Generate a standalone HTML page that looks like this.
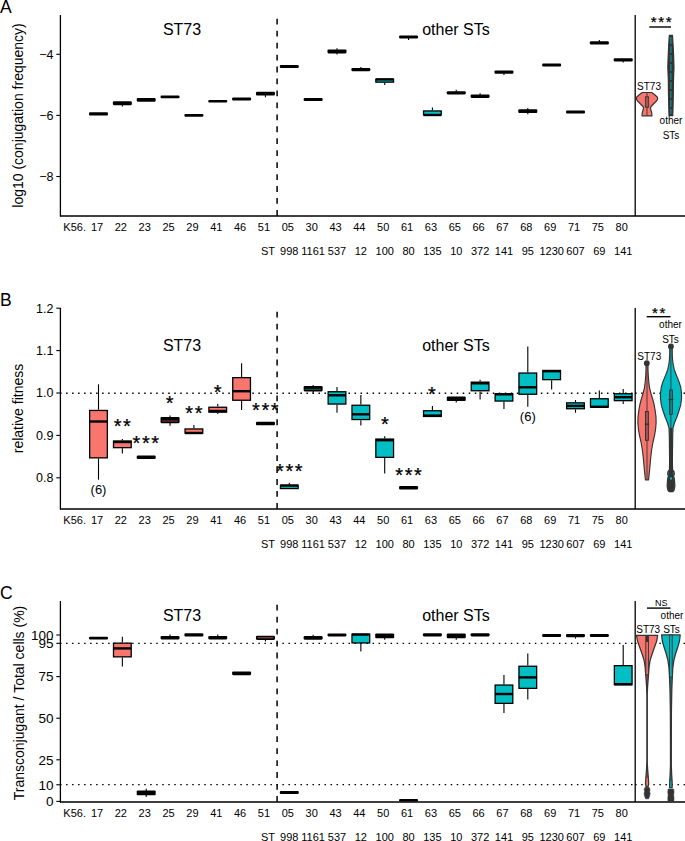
<!DOCTYPE html>
<html><head><meta charset="utf-8"><style>
html,body{margin:0;padding:0;background:#fff;overflow:hidden;}
svg{display:block;}
text{fill:#000;}
</style></head><body>
<svg width="685" height="841" viewBox="0 0 685 841" font-family="'Liberation Sans', sans-serif">
<rect width="685" height="841" fill="#fff"/>
<text x="0.00" y="12.60" font-size="17.5" text-anchor="start" >A</text>
<text transform="translate(23.20,115.50) rotate(-90)" font-size="14" text-anchor="middle">log10 (conjugation frequency)</text>
<line x1="56.30" y1="54.30" x2="60.50" y2="54.30" stroke="#000" stroke-width="1.1" />
<text x="53.50" y="58.74" font-size="12.5" text-anchor="end" >−4</text>
<line x1="56.30" y1="115.40" x2="60.50" y2="115.40" stroke="#000" stroke-width="1.1" />
<text x="53.50" y="119.84" font-size="12.5" text-anchor="end" >−6</text>
<line x1="56.30" y1="176.50" x2="60.50" y2="176.50" stroke="#000" stroke-width="1.1" />
<text x="53.50" y="180.94" font-size="12.5" text-anchor="end" >−8</text>
<line x1="60.40" y1="15.00" x2="60.40" y2="216.60" stroke="#000" stroke-width="1.3" />
<line x1="60.00" y1="216.00" x2="685.00" y2="216.00" stroke="#000" stroke-width="1.3" />
<line x1="635.20" y1="15.00" x2="635.20" y2="216.00" stroke="#000" stroke-width="1.3" />
<line x1="277.10" y1="18.80" x2="277.10" y2="216.00" stroke="#000" stroke-width="1.5" stroke-dasharray="5.8 6.15"/>
<text x="74.65" y="231.00" font-size="11" text-anchor="middle" >K56.</text>
<text x="97.00" y="231.00" font-size="11" text-anchor="middle" >17</text>
<text x="120.85" y="231.00" font-size="11" text-anchor="middle" >22</text>
<text x="144.70" y="231.00" font-size="11" text-anchor="middle" >23</text>
<text x="168.55" y="231.00" font-size="11" text-anchor="middle" >25</text>
<text x="192.40" y="231.00" font-size="11" text-anchor="middle" >29</text>
<text x="216.25" y="231.00" font-size="11" text-anchor="middle" >41</text>
<text x="240.10" y="231.00" font-size="11" text-anchor="middle" >46</text>
<text x="263.95" y="231.00" font-size="11" text-anchor="middle" >51</text>
<text x="287.80" y="231.00" font-size="11" text-anchor="middle" >05</text>
<text x="311.65" y="231.00" font-size="11" text-anchor="middle" >30</text>
<text x="335.50" y="231.00" font-size="11" text-anchor="middle" >43</text>
<text x="359.35" y="231.00" font-size="11" text-anchor="middle" >44</text>
<text x="383.20" y="231.00" font-size="11" text-anchor="middle" >50</text>
<text x="407.05" y="231.00" font-size="11" text-anchor="middle" >61</text>
<text x="430.90" y="231.00" font-size="11" text-anchor="middle" >63</text>
<text x="454.75" y="231.00" font-size="11" text-anchor="middle" >65</text>
<text x="478.60" y="231.00" font-size="11" text-anchor="middle" >66</text>
<text x="502.45" y="231.00" font-size="11" text-anchor="middle" >67</text>
<text x="526.30" y="231.00" font-size="11" text-anchor="middle" >68</text>
<text x="550.15" y="231.00" font-size="11" text-anchor="middle" >69</text>
<text x="574.00" y="231.00" font-size="11" text-anchor="middle" >71</text>
<text x="597.85" y="231.00" font-size="11" text-anchor="middle" >75</text>
<text x="621.70" y="231.00" font-size="11" text-anchor="middle" >80</text>
<text x="267.95" y="254.50" font-size="11" text-anchor="middle" >ST</text>
<text x="289.30" y="254.50" font-size="11" text-anchor="middle" >998</text>
<text x="313.15" y="254.50" font-size="11" text-anchor="middle" >1161</text>
<text x="337.00" y="254.50" font-size="11" text-anchor="middle" >537</text>
<text x="360.85" y="254.50" font-size="11" text-anchor="middle" >12</text>
<text x="384.70" y="254.50" font-size="11" text-anchor="middle" >100</text>
<text x="408.55" y="254.50" font-size="11" text-anchor="middle" >80</text>
<text x="432.40" y="254.50" font-size="11" text-anchor="middle" >135</text>
<text x="456.25" y="254.50" font-size="11" text-anchor="middle" >10</text>
<text x="480.10" y="254.50" font-size="11" text-anchor="middle" >372</text>
<text x="503.95" y="254.50" font-size="11" text-anchor="middle" >141</text>
<text x="527.80" y="254.50" font-size="11" text-anchor="middle" >95</text>
<text x="551.65" y="254.50" font-size="11" text-anchor="middle" >1230</text>
<text x="575.50" y="254.50" font-size="11" text-anchor="middle" >607</text>
<text x="599.35" y="254.50" font-size="11" text-anchor="middle" >69</text>
<text x="623.20" y="254.50" font-size="11" text-anchor="middle" >141</text>
<text x="182.00" y="35.30" font-size="16" text-anchor="middle" >ST73</text>
<text x="456.00" y="35.30" font-size="16" text-anchor="middle" >other STs</text>
<rect x="89.00" y="112.30" width="19.00" height="3.20" rx="1.1" fill="#000"/>
<line x1="122.35" y1="104.20" x2="122.35" y2="106.50" stroke="#000" stroke-width="1.1" />
<rect x="112.85" y="101.30" width="19.00" height="3.90" rx="1.1" fill="#000"/>
<rect x="136.70" y="98.00" width="19.00" height="3.70" rx="1.1" fill="#000"/>
<rect x="160.55" y="95.40" width="19.00" height="2.90" rx="1.1" fill="#000"/>
<rect x="184.40" y="114.00" width="19.00" height="2.80" rx="1.1" fill="#000"/>
<rect x="208.25" y="99.90" width="19.00" height="2.70" rx="1.1" fill="#000"/>
<rect x="232.10" y="97.40" width="19.00" height="3.20" rx="1.1" fill="#000"/>
<line x1="265.45" y1="94.60" x2="265.45" y2="97.30" stroke="#000" stroke-width="1.1" />
<rect x="255.95" y="91.80" width="19.00" height="3.80" rx="1.1" fill="#000"/>
<rect x="279.80" y="65.00" width="19.00" height="3.00" rx="1.1" fill="#000"/>
<rect x="303.65" y="98.00" width="19.00" height="3.00" rx="1.1" fill="#000"/>
<line x1="337.00" y1="48.20" x2="337.00" y2="50.40" stroke="#000" stroke-width="1.1" />
<line x1="337.00" y1="52.40" x2="337.00" y2="54.60" stroke="#000" stroke-width="1.1" />
<rect x="327.50" y="49.40" width="19.00" height="4.00" rx="1.1" fill="#000"/>
<line x1="360.85" y1="67.00" x2="360.85" y2="69.10" stroke="#000" stroke-width="1.1" />
<rect x="351.35" y="68.10" width="19.00" height="3.10" rx="1.1" fill="#000"/>
<line x1="408.55" y1="37.60" x2="408.55" y2="39.90" stroke="#000" stroke-width="1.1" />
<rect x="399.05" y="35.60" width="19.00" height="3.00" rx="1.1" fill="#000"/>
<line x1="456.25" y1="89.80" x2="456.25" y2="92.20" stroke="#000" stroke-width="1.1" />
<rect x="446.75" y="91.20" width="19.00" height="3.20" rx="1.1" fill="#000"/>
<line x1="480.10" y1="93.20" x2="480.10" y2="95.60" stroke="#000" stroke-width="1.1" />
<rect x="470.60" y="94.60" width="19.00" height="3.30" rx="1.1" fill="#000"/>
<line x1="503.95" y1="72.80" x2="503.95" y2="75.00" stroke="#000" stroke-width="1.1" />
<rect x="494.45" y="70.40" width="19.00" height="3.40" rx="1.1" fill="#000"/>
<line x1="527.80" y1="108.00" x2="527.80" y2="110.20" stroke="#000" stroke-width="1.1" />
<line x1="527.80" y1="112.00" x2="527.80" y2="114.20" stroke="#000" stroke-width="1.1" />
<rect x="518.30" y="109.20" width="19.00" height="3.80" rx="1.1" fill="#000"/>
<rect x="542.15" y="63.60" width="19.00" height="3.00" rx="1.1" fill="#000"/>
<rect x="566.00" y="110.60" width="19.00" height="3.00" rx="1.1" fill="#000"/>
<line x1="599.35" y1="40.00" x2="599.35" y2="42.20" stroke="#000" stroke-width="1.1" />
<rect x="589.85" y="41.20" width="19.00" height="3.40" rx="1.1" fill="#000"/>
<line x1="623.20" y1="60.60" x2="623.20" y2="62.60" stroke="#000" stroke-width="1.1" />
<rect x="613.70" y="58.20" width="19.00" height="3.40" rx="1.1" fill="#000"/>
<line x1="384.70" y1="82.80" x2="384.70" y2="85.00" stroke="#000" stroke-width="1.1" />
<rect x="375.85" y="79.25" width="17.70" height="2.90" fill="#00BFC4" stroke="#000" stroke-width="1.3"/>
<line x1="375.80" y1="79.40" x2="393.60" y2="79.40" stroke="#000" stroke-width="2.4" />
<line x1="432.40" y1="107.60" x2="432.40" y2="110.30" stroke="#000" stroke-width="1.1" />
<rect x="423.55" y="110.95" width="17.70" height="3.90" fill="#00BFC4" stroke="#000" stroke-width="1.3"/>
<line x1="423.50" y1="115.00" x2="441.30" y2="115.00" stroke="#000" stroke-width="2.4" />
<text x="650.67" y="27.20" font-size="15" text-anchor="start" stroke="#000" stroke-width="0.25">*</text>
<text x="658.22" y="27.20" font-size="15" text-anchor="start" stroke="#000" stroke-width="0.25">*</text>
<text x="665.77" y="27.20" font-size="15" text-anchor="start" stroke="#000" stroke-width="0.25">*</text>
<line x1="649.30" y1="27.00" x2="671.00" y2="27.00" stroke="#000" stroke-width="1.4" />
<path d="M642.30,92.50 L639.50,94.50 L636.80,97.00 L636.30,99.00 L637.50,101.00 L639.50,103.00 L641.00,104.50 L643.00,106.50 L643.50,108.00 L643.10,110.00 L642.30,112.50 L642.00,115.80 L652.00,115.80 L651.70,112.50 L650.90,110.00 L650.50,108.00 L651.00,106.50 L653.00,104.50 L654.50,103.00 L656.50,101.00 L657.70,99.00 L657.20,97.00 L654.50,94.50 L651.70,92.50 Z" fill="#F8766D" stroke="#333333" stroke-width="1.15" stroke-linejoin="round"/>
<rect x="645.4" y="96.8" width="3.2" height="10.4" fill="none" stroke="#333333" stroke-width="0.9"/>
<line x1="647.00" y1="93.00" x2="647.00" y2="115.60" stroke="#333333" stroke-width="0.9" />
<path d="M669.30,35.40 L668.70,45.00 L668.20,55.00 L667.80,67.00 L668.30,80.00 L668.50,95.00 L668.70,105.00 L669.00,115.60 L672.80,115.60 L673.10,105.00 L673.30,95.00 L673.50,80.00 L674.00,67.00 L673.60,55.00 L673.10,45.00 L672.50,35.40 Z" fill="#333333" stroke="#333333" stroke-width="1.15" stroke-linejoin="round"/>
<line x1="670.90" y1="37.00" x2="670.90" y2="114.00" stroke="#00BFC4" stroke-width="0.8" stroke-dasharray="7 2"/>
<text x="649.00" y="90.40" font-size="10" text-anchor="middle" >ST73</text>
<text x="671.00" y="124.20" font-size="10" text-anchor="middle" >other</text>
<text x="671.00" y="139.00" font-size="10" text-anchor="middle" >STs</text>
<text x="0.00" y="305.60" font-size="17.5" text-anchor="start" >B</text>
<text transform="translate(23.20,408.50) rotate(-90)" font-size="14" text-anchor="middle">relative fitness</text>
<line x1="56.30" y1="308.20" x2="60.50" y2="308.20" stroke="#000" stroke-width="1.1" />
<text x="53.50" y="312.64" font-size="12.5" text-anchor="end" >1.2</text>
<line x1="56.30" y1="350.60" x2="60.50" y2="350.60" stroke="#000" stroke-width="1.1" />
<text x="53.50" y="355.04" font-size="12.5" text-anchor="end" >1.1</text>
<line x1="56.30" y1="393.00" x2="60.50" y2="393.00" stroke="#000" stroke-width="1.1" />
<text x="53.50" y="397.44" font-size="12.5" text-anchor="end" >1.0</text>
<line x1="56.30" y1="435.40" x2="60.50" y2="435.40" stroke="#000" stroke-width="1.1" />
<text x="53.50" y="439.84" font-size="12.5" text-anchor="end" >0.9</text>
<line x1="56.30" y1="477.80" x2="60.50" y2="477.80" stroke="#000" stroke-width="1.1" />
<text x="53.50" y="482.24" font-size="12.5" text-anchor="end" >0.8</text>
<line x1="60.05" y1="393.20" x2="634.50" y2="393.20" stroke="#000" stroke-width="1.35" stroke-dasharray="1.5 4.51"/>
<line x1="635.15" y1="393.20" x2="685.00" y2="393.20" stroke="#000" stroke-width="1.35" stroke-dasharray="1.5 4.55"/>
<line x1="60.40" y1="308.00" x2="60.40" y2="509.60" stroke="#000" stroke-width="1.3" />
<line x1="60.00" y1="509.00" x2="685.00" y2="509.00" stroke="#000" stroke-width="1.3" />
<line x1="635.20" y1="308.00" x2="635.20" y2="509.00" stroke="#000" stroke-width="1.3" />
<line x1="277.10" y1="311.80" x2="277.10" y2="509.00" stroke="#000" stroke-width="1.5" stroke-dasharray="5.8 6.15"/>
<text x="74.65" y="524.00" font-size="11" text-anchor="middle" >K56.</text>
<text x="97.00" y="524.00" font-size="11" text-anchor="middle" >17</text>
<text x="120.85" y="524.00" font-size="11" text-anchor="middle" >22</text>
<text x="144.70" y="524.00" font-size="11" text-anchor="middle" >23</text>
<text x="168.55" y="524.00" font-size="11" text-anchor="middle" >25</text>
<text x="192.40" y="524.00" font-size="11" text-anchor="middle" >29</text>
<text x="216.25" y="524.00" font-size="11" text-anchor="middle" >41</text>
<text x="240.10" y="524.00" font-size="11" text-anchor="middle" >46</text>
<text x="263.95" y="524.00" font-size="11" text-anchor="middle" >51</text>
<text x="287.80" y="524.00" font-size="11" text-anchor="middle" >05</text>
<text x="311.65" y="524.00" font-size="11" text-anchor="middle" >30</text>
<text x="335.50" y="524.00" font-size="11" text-anchor="middle" >43</text>
<text x="359.35" y="524.00" font-size="11" text-anchor="middle" >44</text>
<text x="383.20" y="524.00" font-size="11" text-anchor="middle" >50</text>
<text x="407.05" y="524.00" font-size="11" text-anchor="middle" >61</text>
<text x="430.90" y="524.00" font-size="11" text-anchor="middle" >63</text>
<text x="454.75" y="524.00" font-size="11" text-anchor="middle" >65</text>
<text x="478.60" y="524.00" font-size="11" text-anchor="middle" >66</text>
<text x="502.45" y="524.00" font-size="11" text-anchor="middle" >67</text>
<text x="526.30" y="524.00" font-size="11" text-anchor="middle" >68</text>
<text x="550.15" y="524.00" font-size="11" text-anchor="middle" >69</text>
<text x="574.00" y="524.00" font-size="11" text-anchor="middle" >71</text>
<text x="597.85" y="524.00" font-size="11" text-anchor="middle" >75</text>
<text x="621.70" y="524.00" font-size="11" text-anchor="middle" >80</text>
<text x="267.95" y="547.50" font-size="11" text-anchor="middle" >ST</text>
<text x="289.30" y="547.50" font-size="11" text-anchor="middle" >998</text>
<text x="313.15" y="547.50" font-size="11" text-anchor="middle" >1161</text>
<text x="337.00" y="547.50" font-size="11" text-anchor="middle" >537</text>
<text x="360.85" y="547.50" font-size="11" text-anchor="middle" >12</text>
<text x="384.70" y="547.50" font-size="11" text-anchor="middle" >100</text>
<text x="408.55" y="547.50" font-size="11" text-anchor="middle" >80</text>
<text x="432.40" y="547.50" font-size="11" text-anchor="middle" >135</text>
<text x="456.25" y="547.50" font-size="11" text-anchor="middle" >10</text>
<text x="480.10" y="547.50" font-size="11" text-anchor="middle" >372</text>
<text x="503.95" y="547.50" font-size="11" text-anchor="middle" >141</text>
<text x="527.80" y="547.50" font-size="11" text-anchor="middle" >95</text>
<text x="551.65" y="547.50" font-size="11" text-anchor="middle" >1230</text>
<text x="575.50" y="547.50" font-size="11" text-anchor="middle" >607</text>
<text x="599.35" y="547.50" font-size="11" text-anchor="middle" >69</text>
<text x="623.20" y="547.50" font-size="11" text-anchor="middle" >141</text>
<text x="182.00" y="350.90" font-size="16" text-anchor="middle" >ST73</text>
<text x="456.00" y="350.90" font-size="16" text-anchor="middle" >other STs</text>
<line x1="98.50" y1="384.30" x2="98.50" y2="409.80" stroke="#000" stroke-width="1.1" />
<line x1="98.50" y1="458.50" x2="98.50" y2="479.70" stroke="#000" stroke-width="1.1" />
<rect x="89.65" y="410.45" width="17.70" height="47.40" fill="#F8766D" stroke="#000" stroke-width="1.3"/>
<line x1="89.60" y1="421.50" x2="107.40" y2="421.50" stroke="#000" stroke-width="2.4" />
<text x="98.50" y="494.40" font-size="13" text-anchor="middle" >(6)</text>
<line x1="122.35" y1="439.00" x2="122.35" y2="440.40" stroke="#000" stroke-width="1.1" />
<line x1="122.35" y1="448.30" x2="122.35" y2="453.50" stroke="#000" stroke-width="1.1" />
<rect x="113.50" y="441.05" width="17.70" height="6.60" fill="#F8766D" stroke="#000" stroke-width="1.3"/>
<line x1="113.45" y1="442.00" x2="131.25" y2="442.00" stroke="#000" stroke-width="2.4" />
<rect x="136.70" y="455.60" width="19.00" height="3.50" rx="1.1" fill="#000"/>
<line x1="170.05" y1="415.50" x2="170.05" y2="418.10" stroke="#000" stroke-width="1.1" />
<line x1="170.05" y1="422.30" x2="170.05" y2="425.70" stroke="#000" stroke-width="1.1" />
<rect x="160.55" y="417.10" width="19.00" height="6.20" rx="1.1" fill="#000"/>
<line x1="162.15" y1="421.00" x2="177.95" y2="421.00" stroke="#a04a44" stroke-width="0.9" />
<line x1="193.90" y1="425.00" x2="193.90" y2="428.30" stroke="#000" stroke-width="1.1" />
<rect x="185.05" y="428.95" width="17.70" height="4.20" fill="#F8766D" stroke="#000" stroke-width="1.3"/>
<line x1="185.00" y1="433.00" x2="202.80" y2="433.00" stroke="#000" stroke-width="2.4" />
<line x1="217.75" y1="404.00" x2="217.75" y2="406.60" stroke="#000" stroke-width="1.1" />
<line x1="217.75" y1="412.80" x2="217.75" y2="414.00" stroke="#000" stroke-width="1.1" />
<rect x="208.90" y="407.25" width="17.70" height="4.90" fill="#F8766D" stroke="#000" stroke-width="1.3"/>
<line x1="208.85" y1="411.00" x2="226.65" y2="411.00" stroke="#000" stroke-width="2.4" />
<line x1="241.60" y1="363.20" x2="241.60" y2="377.00" stroke="#000" stroke-width="1.1" />
<line x1="241.60" y1="400.90" x2="241.60" y2="409.90" stroke="#000" stroke-width="1.1" />
<rect x="232.75" y="377.65" width="17.70" height="22.60" fill="#F8766D" stroke="#000" stroke-width="1.3"/>
<line x1="232.70" y1="391.20" x2="250.50" y2="391.20" stroke="#000" stroke-width="2.4" />
<rect x="255.95" y="421.80" width="19.00" height="3.50" rx="1.1" fill="#000"/>
<line x1="289.30" y1="482.70" x2="289.30" y2="484.60" stroke="#000" stroke-width="1.1" />
<rect x="280.45" y="485.25" width="17.70" height="3.30" fill="#00BFC4" stroke="#000" stroke-width="1.3"/>
<line x1="280.40" y1="485.60" x2="298.20" y2="485.60" stroke="#000" stroke-width="2.4" />
<line x1="313.15" y1="385.00" x2="313.15" y2="387.10" stroke="#000" stroke-width="1.1" />
<line x1="313.15" y1="390.40" x2="313.15" y2="393.50" stroke="#000" stroke-width="1.1" />
<rect x="303.65" y="386.10" width="19.00" height="5.30" rx="1.1" fill="#000"/>
<line x1="305.25" y1="389.30" x2="321.05" y2="389.30" stroke="#0a6e70" stroke-width="0.9" />
<line x1="337.00" y1="387.10" x2="337.00" y2="391.10" stroke="#000" stroke-width="1.1" />
<line x1="337.00" y1="404.70" x2="337.00" y2="412.80" stroke="#000" stroke-width="1.1" />
<rect x="328.15" y="391.75" width="17.70" height="12.30" fill="#00BFC4" stroke="#000" stroke-width="1.3"/>
<line x1="328.10" y1="395.30" x2="345.90" y2="395.30" stroke="#000" stroke-width="2.4" />
<line x1="360.85" y1="395.00" x2="360.85" y2="404.60" stroke="#000" stroke-width="1.1" />
<line x1="360.85" y1="420.20" x2="360.85" y2="425.60" stroke="#000" stroke-width="1.1" />
<rect x="352.00" y="405.25" width="17.70" height="14.30" fill="#00BFC4" stroke="#000" stroke-width="1.3"/>
<line x1="351.95" y1="414.30" x2="369.75" y2="414.30" stroke="#000" stroke-width="2.4" />
<line x1="384.70" y1="436.20" x2="384.70" y2="438.40" stroke="#000" stroke-width="1.1" />
<line x1="384.70" y1="458.00" x2="384.70" y2="473.60" stroke="#000" stroke-width="1.1" />
<rect x="375.85" y="439.05" width="17.70" height="18.30" fill="#00BFC4" stroke="#000" stroke-width="1.3"/>
<line x1="375.80" y1="440.20" x2="393.60" y2="440.20" stroke="#000" stroke-width="2.4" />
<rect x="399.05" y="486.10" width="19.00" height="3.40" rx="1.1" fill="#000"/>
<line x1="432.40" y1="406.00" x2="432.40" y2="410.10" stroke="#000" stroke-width="1.1" />
<rect x="423.55" y="410.75" width="17.70" height="5.70" fill="#00BFC4" stroke="#000" stroke-width="1.3"/>
<line x1="423.50" y1="415.60" x2="441.30" y2="415.60" stroke="#000" stroke-width="2.4" />
<line x1="456.25" y1="400.00" x2="456.25" y2="402.50" stroke="#000" stroke-width="1.1" />
<rect x="446.75" y="396.60" width="19.00" height="4.40" rx="1.1" fill="#000"/>
<line x1="480.10" y1="379.70" x2="480.10" y2="381.50" stroke="#000" stroke-width="1.1" />
<line x1="480.10" y1="391.40" x2="480.10" y2="399.60" stroke="#000" stroke-width="1.1" />
<rect x="471.25" y="382.15" width="17.70" height="8.60" fill="#00BFC4" stroke="#000" stroke-width="1.3"/>
<line x1="471.20" y1="383.30" x2="489.00" y2="383.30" stroke="#000" stroke-width="2.4" />
<line x1="503.95" y1="401.70" x2="503.95" y2="408.90" stroke="#000" stroke-width="1.1" />
<rect x="495.10" y="393.75" width="17.70" height="7.30" fill="#00BFC4" stroke="#000" stroke-width="1.3"/>
<line x1="495.05" y1="394.30" x2="512.85" y2="394.30" stroke="#000" stroke-width="2.4" />
<line x1="527.80" y1="346.40" x2="527.80" y2="372.40" stroke="#000" stroke-width="1.1" />
<line x1="527.80" y1="394.90" x2="527.80" y2="406.80" stroke="#000" stroke-width="1.1" />
<rect x="518.95" y="373.05" width="17.70" height="21.20" fill="#00BFC4" stroke="#000" stroke-width="1.3"/>
<line x1="518.90" y1="387.30" x2="536.70" y2="387.30" stroke="#000" stroke-width="2.4" />
<text x="527.80" y="421.30" font-size="13" text-anchor="middle" >(6)</text>
<line x1="551.65" y1="380.30" x2="551.65" y2="389.60" stroke="#000" stroke-width="1.1" />
<rect x="542.80" y="370.45" width="17.70" height="9.20" fill="#00BFC4" stroke="#000" stroke-width="1.3"/>
<line x1="542.75" y1="371.20" x2="560.55" y2="371.20" stroke="#000" stroke-width="2.4" />
<line x1="575.50" y1="400.10" x2="575.50" y2="402.20" stroke="#000" stroke-width="1.1" />
<line x1="575.50" y1="409.40" x2="575.50" y2="412.70" stroke="#000" stroke-width="1.1" />
<rect x="566.65" y="402.85" width="17.70" height="5.90" fill="#00BFC4" stroke="#000" stroke-width="1.3"/>
<line x1="566.60" y1="405.90" x2="584.40" y2="405.90" stroke="#000" stroke-width="2.4" />
<line x1="599.35" y1="390.50" x2="599.35" y2="398.10" stroke="#000" stroke-width="1.1" />
<rect x="590.50" y="398.75" width="17.70" height="8.40" fill="#00BFC4" stroke="#000" stroke-width="1.3"/>
<line x1="590.45" y1="406.80" x2="608.25" y2="406.80" stroke="#000" stroke-width="2.4" />
<line x1="623.20" y1="389.10" x2="623.20" y2="393.10" stroke="#000" stroke-width="1.1" />
<line x1="623.20" y1="401.30" x2="623.20" y2="404.00" stroke="#000" stroke-width="1.1" />
<rect x="614.35" y="393.75" width="17.70" height="6.90" fill="#00BFC4" stroke="#000" stroke-width="1.3"/>
<line x1="614.30" y1="397.20" x2="632.10" y2="397.20" stroke="#000" stroke-width="2.4" />
<text x="113.70" y="433.33" font-size="20" text-anchor="start" stroke="#000" stroke-width="0.25">*</text>
<text x="123.05" y="433.33" font-size="20" text-anchor="start" stroke="#000" stroke-width="0.25">*</text>
<text x="132.60" y="450.23" font-size="20" text-anchor="start" stroke="#000" stroke-width="0.25">*</text>
<text x="141.95" y="450.23" font-size="20" text-anchor="start" stroke="#000" stroke-width="0.25">*</text>
<text x="151.30" y="450.23" font-size="20" text-anchor="start" stroke="#000" stroke-width="0.25">*</text>
<text x="165.80" y="410.43" font-size="20" text-anchor="start" stroke="#000" stroke-width="0.25">*</text>
<text x="185.30" y="419.73" font-size="20" text-anchor="start" stroke="#000" stroke-width="0.25">*</text>
<text x="194.65" y="419.73" font-size="20" text-anchor="start" stroke="#000" stroke-width="0.25">*</text>
<text x="213.70" y="399.03" font-size="20" text-anchor="start" stroke="#000" stroke-width="0.25">*</text>
<text x="252.10" y="417.43" font-size="20" text-anchor="start" stroke="#000" stroke-width="0.25">*</text>
<text x="261.45" y="417.43" font-size="20" text-anchor="start" stroke="#000" stroke-width="0.25">*</text>
<text x="270.80" y="417.43" font-size="20" text-anchor="start" stroke="#000" stroke-width="0.25">*</text>
<text x="276.10" y="477.53" font-size="20" text-anchor="start" stroke="#000" stroke-width="0.25">*</text>
<text x="285.45" y="477.53" font-size="20" text-anchor="start" stroke="#000" stroke-width="0.25">*</text>
<text x="294.80" y="477.53" font-size="20" text-anchor="start" stroke="#000" stroke-width="0.25">*</text>
<text x="380.90" y="431.23" font-size="20" text-anchor="start" stroke="#000" stroke-width="0.25">*</text>
<text x="395.30" y="482.43" font-size="20" text-anchor="start" stroke="#000" stroke-width="0.25">*</text>
<text x="404.65" y="482.43" font-size="20" text-anchor="start" stroke="#000" stroke-width="0.25">*</text>
<text x="414.00" y="482.43" font-size="20" text-anchor="start" stroke="#000" stroke-width="0.25">*</text>
<text x="428.10" y="400.63" font-size="20" text-anchor="start" stroke="#000" stroke-width="0.25">*</text>
<text x="651.98" y="318.10" font-size="15" text-anchor="start" stroke="#000" stroke-width="0.25">*</text>
<text x="659.48" y="318.10" font-size="15" text-anchor="start" stroke="#000" stroke-width="0.25">*</text>
<line x1="646.70" y1="316.70" x2="670.50" y2="316.70" stroke="#000" stroke-width="1.4" />
<text x="670.50" y="327.60" font-size="10" text-anchor="middle" >other</text>
<text x="670.50" y="343.00" font-size="10" text-anchor="middle" >STs</text>
<text x="649.30" y="360.00" font-size="10" text-anchor="middle" >ST73</text>
<path d="M646.00,363.20 L646.00,370.00 L645.70,376.00 L645.20,382.00 L644.50,387.60 L643.00,393.50 L641.20,399.50 L639.80,405.00 L638.70,411.30 L638.00,417.00 L637.90,423.20 L638.40,429.00 L639.40,435.10 L641.00,442.00 L642.40,450.00 L643.50,460.00 L644.40,470.00 L645.40,479.80 L648.60,479.80 L649.60,470.00 L650.50,460.00 L651.60,450.00 L653.00,442.00 L654.60,435.10 L655.60,429.00 L656.10,423.20 L656.00,417.00 L655.30,411.30 L654.20,405.00 L652.80,399.50 L651.00,393.50 L649.50,387.60 L648.80,382.00 L648.30,376.00 L648.00,370.00 L648.00,363.20 Z" fill="#F8766D" stroke="#333333" stroke-width="1.15" stroke-linejoin="round"/>
<rect x="645.5" y="411.5" width="2.9" height="28.8" fill="none" stroke="#333333" stroke-width="1"/>
<line x1="644.80" y1="424.20" x2="649.20" y2="424.20" stroke="#333333" stroke-width="1.4" />
<line x1="647.00" y1="363.00" x2="647.00" y2="479.60" stroke="#333333" stroke-width="0.9" />
<circle cx="646.8" cy="363.2" r="2.9" fill="#333333"/>
<path d="M669.80,346.40 L669.70,355.00 L669.40,360.00 L668.70,365.00 L667.70,369.70 L665.70,375.00 L663.00,381.60 L661.30,387.00 L660.50,393.50 L660.50,399.00 L661.40,405.40 L663.10,411.00 L665.20,417.30 L667.60,423.00 L669.00,428.00 L669.30,435.00 L669.50,450.00 L669.60,462.00 L669.40,470.00 L668.00,471.50 L667.60,474.00 L668.40,476.00 L667.60,479.00 L667.10,486.00 L667.80,490.00 L669.20,491.60 L672.80,491.60 L674.20,490.00 L674.90,486.00 L674.40,479.00 L673.60,476.00 L674.40,474.00 L674.00,471.50 L672.60,470.00 L672.40,462.00 L672.50,450.00 L672.70,435.00 L673.00,428.00 L674.40,423.00 L676.80,417.30 L678.90,411.00 L680.60,405.40 L681.50,399.00 L681.50,393.50 L680.70,387.00 L679.00,381.60 L676.30,375.00 L674.30,369.70 L673.30,365.00 L672.60,360.00 L672.30,355.00 L672.20,346.40 Z" fill="#00BFC4" stroke="#333333" stroke-width="1.15" stroke-linejoin="round"/>
<rect x="669.6" y="390" width="2.8" height="24.3" fill="none" stroke="#333333" stroke-width="1"/>
<line x1="671.00" y1="428.00" x2="671.00" y2="471.00" stroke="#333333" stroke-width="2.6" />
<line x1="668.50" y1="399.50" x2="673.50" y2="399.50" stroke="#333333" stroke-width="1.2" />
<line x1="670.90" y1="346.00" x2="670.90" y2="470.00" stroke="#333333" stroke-width="0.9" />
<path d="M668.6,470 L673.2,470 L673.6,478 L674.5,486 L673.2,491.6 L668.6,491.6 L667.3,486 L668.2,478 Z" fill="#333333"/>
<rect x="670" y="477.5" width="2" height="2" fill="#00BFC4"/>
<circle cx="670.9" cy="346.4" r="2.9" fill="#333333"/>
<text x="0.00" y="598.60" font-size="17.5" text-anchor="start" >C</text>
<text transform="translate(23.70,703.00) rotate(-90)" font-size="14" text-anchor="middle">Transconjugant / Total cells (%)</text>
<line x1="56.30" y1="635.00" x2="60.50" y2="635.00" stroke="#000" stroke-width="1.1" />
<text x="53.50" y="639.79" font-size="13.5" text-anchor="end" >100</text>
<line x1="56.30" y1="643.32" x2="60.50" y2="643.32" stroke="#000" stroke-width="1.1" />
<text x="53.50" y="648.11" font-size="13.5" text-anchor="end" >95</text>
<line x1="56.30" y1="676.60" x2="60.50" y2="676.60" stroke="#000" stroke-width="1.1" />
<text x="53.50" y="681.39" font-size="13.5" text-anchor="end" >75</text>
<line x1="56.30" y1="718.20" x2="60.50" y2="718.20" stroke="#000" stroke-width="1.1" />
<text x="53.50" y="722.99" font-size="13.5" text-anchor="end" >50</text>
<line x1="56.30" y1="759.80" x2="60.50" y2="759.80" stroke="#000" stroke-width="1.1" />
<text x="53.50" y="764.59" font-size="13.5" text-anchor="end" >25</text>
<line x1="56.30" y1="784.76" x2="60.50" y2="784.76" stroke="#000" stroke-width="1.1" />
<text x="53.50" y="789.55" font-size="13.5" text-anchor="end" >10</text>
<line x1="56.30" y1="801.40" x2="60.50" y2="801.40" stroke="#000" stroke-width="1.1" />
<text x="53.50" y="806.19" font-size="13.5" text-anchor="end" >0</text>
<line x1="60.05" y1="643.40" x2="634.50" y2="643.40" stroke="#000" stroke-width="1.35" stroke-dasharray="1.5 4.51"/>
<line x1="635.15" y1="643.40" x2="685.00" y2="643.40" stroke="#000" stroke-width="1.35" stroke-dasharray="1.5 4.55"/>
<line x1="60.05" y1="784.60" x2="634.50" y2="784.60" stroke="#000" stroke-width="1.35" stroke-dasharray="1.5 4.51"/>
<line x1="635.15" y1="784.60" x2="685.00" y2="784.60" stroke="#000" stroke-width="1.35" stroke-dasharray="1.5 4.55"/>
<line x1="60.40" y1="601.00" x2="60.40" y2="802.60" stroke="#000" stroke-width="1.3" />
<line x1="60.00" y1="802.00" x2="685.00" y2="802.00" stroke="#000" stroke-width="1.3" />
<line x1="635.20" y1="601.00" x2="635.20" y2="802.00" stroke="#000" stroke-width="1.3" />
<line x1="277.10" y1="604.80" x2="277.10" y2="802.00" stroke="#000" stroke-width="1.5" stroke-dasharray="5.8 6.15"/>
<text x="74.65" y="817.00" font-size="11" text-anchor="middle" >K56.</text>
<text x="97.00" y="817.00" font-size="11" text-anchor="middle" >17</text>
<text x="120.85" y="817.00" font-size="11" text-anchor="middle" >22</text>
<text x="144.70" y="817.00" font-size="11" text-anchor="middle" >23</text>
<text x="168.55" y="817.00" font-size="11" text-anchor="middle" >25</text>
<text x="192.40" y="817.00" font-size="11" text-anchor="middle" >29</text>
<text x="216.25" y="817.00" font-size="11" text-anchor="middle" >41</text>
<text x="240.10" y="817.00" font-size="11" text-anchor="middle" >46</text>
<text x="263.95" y="817.00" font-size="11" text-anchor="middle" >51</text>
<text x="287.80" y="817.00" font-size="11" text-anchor="middle" >05</text>
<text x="311.65" y="817.00" font-size="11" text-anchor="middle" >30</text>
<text x="335.50" y="817.00" font-size="11" text-anchor="middle" >43</text>
<text x="359.35" y="817.00" font-size="11" text-anchor="middle" >44</text>
<text x="383.20" y="817.00" font-size="11" text-anchor="middle" >50</text>
<text x="407.05" y="817.00" font-size="11" text-anchor="middle" >61</text>
<text x="430.90" y="817.00" font-size="11" text-anchor="middle" >63</text>
<text x="454.75" y="817.00" font-size="11" text-anchor="middle" >65</text>
<text x="478.60" y="817.00" font-size="11" text-anchor="middle" >66</text>
<text x="502.45" y="817.00" font-size="11" text-anchor="middle" >67</text>
<text x="526.30" y="817.00" font-size="11" text-anchor="middle" >68</text>
<text x="550.15" y="817.00" font-size="11" text-anchor="middle" >69</text>
<text x="574.00" y="817.00" font-size="11" text-anchor="middle" >71</text>
<text x="597.85" y="817.00" font-size="11" text-anchor="middle" >75</text>
<text x="621.70" y="817.00" font-size="11" text-anchor="middle" >80</text>
<text x="267.95" y="840.50" font-size="11" text-anchor="middle" >ST</text>
<text x="289.30" y="840.50" font-size="11" text-anchor="middle" >998</text>
<text x="313.15" y="840.50" font-size="11" text-anchor="middle" >1161</text>
<text x="337.00" y="840.50" font-size="11" text-anchor="middle" >537</text>
<text x="360.85" y="840.50" font-size="11" text-anchor="middle" >12</text>
<text x="384.70" y="840.50" font-size="11" text-anchor="middle" >100</text>
<text x="408.55" y="840.50" font-size="11" text-anchor="middle" >80</text>
<text x="432.40" y="840.50" font-size="11" text-anchor="middle" >135</text>
<text x="456.25" y="840.50" font-size="11" text-anchor="middle" >10</text>
<text x="480.10" y="840.50" font-size="11" text-anchor="middle" >372</text>
<text x="503.95" y="840.50" font-size="11" text-anchor="middle" >141</text>
<text x="527.80" y="840.50" font-size="11" text-anchor="middle" >95</text>
<text x="551.65" y="840.50" font-size="11" text-anchor="middle" >1230</text>
<text x="575.50" y="840.50" font-size="11" text-anchor="middle" >607</text>
<text x="599.35" y="840.50" font-size="11" text-anchor="middle" >69</text>
<text x="623.20" y="840.50" font-size="11" text-anchor="middle" >141</text>
<text x="182.00" y="621.00" font-size="16" text-anchor="middle" >ST73</text>
<text x="456.00" y="621.00" font-size="16" text-anchor="middle" >other STs</text>
<rect x="89.00" y="636.70" width="19.00" height="2.90" rx="1.1" fill="#000"/>
<line x1="122.35" y1="636.70" x2="122.35" y2="642.50" stroke="#000" stroke-width="1.1" />
<line x1="122.35" y1="657.50" x2="122.35" y2="666.50" stroke="#000" stroke-width="1.1" />
<rect x="113.50" y="643.15" width="17.70" height="13.70" fill="#F8766D" stroke="#000" stroke-width="1.3"/>
<line x1="113.45" y1="648.40" x2="131.25" y2="648.40" stroke="#000" stroke-width="2.4" />
<line x1="146.20" y1="788.80" x2="146.20" y2="791.40" stroke="#000" stroke-width="1.1" />
<line x1="146.20" y1="794.30" x2="146.20" y2="797.00" stroke="#000" stroke-width="1.1" />
<rect x="136.70" y="790.40" width="19.00" height="4.90" rx="1.1" fill="#000"/>
<line x1="170.05" y1="634.60" x2="170.05" y2="636.90" stroke="#000" stroke-width="1.1" />
<rect x="160.55" y="635.90" width="19.00" height="3.50" rx="1.1" fill="#000"/>
<rect x="184.40" y="633.30" width="19.00" height="3.20" rx="1.1" fill="#000"/>
<line x1="217.75" y1="634.60" x2="217.75" y2="636.90" stroke="#000" stroke-width="1.1" />
<rect x="208.25" y="635.90" width="19.00" height="3.50" rx="1.1" fill="#000"/>
<rect x="232.10" y="671.40" width="19.00" height="3.80" rx="1.1" fill="#000"/>
<line x1="265.45" y1="638.90" x2="265.45" y2="641.40" stroke="#000" stroke-width="1.1" />
<rect x="255.95" y="635.70" width="19.00" height="4.20" rx="1.1" fill="#000"/>
<line x1="257.55" y1="637.80" x2="273.35" y2="637.80" stroke="#b65a52" stroke-width="0.9" />
<rect x="279.80" y="791.00" width="19.00" height="3.00" rx="1.1" fill="#000"/>
<line x1="313.15" y1="634.80" x2="313.15" y2="637.10" stroke="#000" stroke-width="1.1" />
<rect x="303.65" y="636.10" width="19.00" height="3.60" rx="1.1" fill="#000"/>
<rect x="327.50" y="633.50" width="19.00" height="2.90" rx="1.1" fill="#000"/>
<line x1="360.85" y1="643.60" x2="360.85" y2="651.60" stroke="#000" stroke-width="1.1" />
<rect x="352.00" y="634.15" width="17.70" height="8.80" fill="#00BFC4" stroke="#000" stroke-width="1.3"/>
<line x1="351.95" y1="634.60" x2="369.75" y2="634.60" stroke="#000" stroke-width="2.4" />
<line x1="384.70" y1="637.30" x2="384.70" y2="639.80" stroke="#000" stroke-width="1.1" />
<rect x="375.20" y="633.50" width="19.00" height="4.80" rx="1.1" fill="#000"/>
<rect x="399.05" y="799.00" width="19.00" height="2.60" rx="1.1" fill="#000"/>
<rect x="422.90" y="633.20" width="19.00" height="3.20" rx="1.1" fill="#000"/>
<line x1="456.25" y1="637.30" x2="456.25" y2="639.80" stroke="#000" stroke-width="1.1" />
<rect x="446.75" y="633.50" width="19.00" height="4.80" rx="1.1" fill="#000"/>
<rect x="470.60" y="633.20" width="19.00" height="3.20" rx="1.1" fill="#000"/>
<line x1="503.95" y1="675.00" x2="503.95" y2="684.40" stroke="#000" stroke-width="1.1" />
<line x1="503.95" y1="704.00" x2="503.95" y2="713.00" stroke="#000" stroke-width="1.1" />
<rect x="495.10" y="685.05" width="17.70" height="18.30" fill="#00BFC4" stroke="#000" stroke-width="1.3"/>
<line x1="495.05" y1="694.00" x2="512.85" y2="694.00" stroke="#000" stroke-width="2.4" />
<line x1="527.80" y1="653.40" x2="527.80" y2="665.60" stroke="#000" stroke-width="1.1" />
<line x1="527.80" y1="689.00" x2="527.80" y2="699.40" stroke="#000" stroke-width="1.1" />
<rect x="518.95" y="666.25" width="17.70" height="22.10" fill="#00BFC4" stroke="#000" stroke-width="1.3"/>
<line x1="518.90" y1="677.40" x2="536.70" y2="677.40" stroke="#000" stroke-width="2.4" />
<rect x="542.15" y="633.90" width="19.00" height="3.10" rx="1.1" fill="#000"/>
<line x1="575.50" y1="636.20" x2="575.50" y2="638.60" stroke="#000" stroke-width="1.1" />
<rect x="566.00" y="633.90" width="19.00" height="3.30" rx="1.1" fill="#000"/>
<rect x="589.85" y="633.90" width="19.00" height="3.10" rx="1.1" fill="#000"/>
<line x1="623.20" y1="644.90" x2="623.20" y2="665.00" stroke="#000" stroke-width="1.1" />
<rect x="614.35" y="665.65" width="17.70" height="19.10" fill="#00BFC4" stroke="#000" stroke-width="1.3"/>
<line x1="614.30" y1="684.20" x2="632.10" y2="684.20" stroke="#000" stroke-width="2.4" />
<text x="661.20" y="605.90" font-size="9" text-anchor="middle" >NS</text>
<line x1="647.00" y1="608.10" x2="670.50" y2="608.10" stroke="#000" stroke-width="1.4" />
<text x="672.00" y="619.20" font-size="10" text-anchor="middle" >other</text>
<text x="648.20" y="633.20" font-size="10" text-anchor="middle" >ST73</text>
<text x="671.50" y="633.20" font-size="10" text-anchor="middle" >STs</text>
<path d="M636.50,635.30 L637.50,641.00 L639.70,647.30 L642.10,654.00 L644.10,660.40 L645.10,667.00 L645.60,673.50 L646.10,680.00 L646.60,686.60 L647.00,695.00 L647.00,762.00 L646.50,770.00 L645.90,777.00 L645.50,784.00 L646.10,786.50 L648.10,786.50 L648.70,784.00 L648.30,777.00 L647.70,770.00 L647.20,762.00 L647.20,695.00 L647.60,686.60 L648.10,680.00 L648.60,673.50 L649.10,667.00 L650.10,660.40 L652.10,654.00 L654.50,647.30 L656.70,641.00 L657.70,635.30 Z" fill="#F8766D" stroke="#333333" stroke-width="1.25" stroke-linejoin="round"/>
<rect x="645.8" y="635.5" width="2.6" height="39.3" fill="#F8766D" stroke="#333333" stroke-width="1"/>
<line x1="647.10" y1="635.50" x2="647.10" y2="642.00" stroke="#333333" stroke-width="2.2" />
<line x1="647.10" y1="674.80" x2="647.10" y2="778.00" stroke="#333333" stroke-width="1.0" />
<path d="M645.2,787.2 L649.0,787.2 L650.0,789.5 L649.6,791.5 L650.1,793.5 L649.6,796 L648.6,798.8 L645.6,798.8 L644.6,796 L644.1,793.5 L644.6,791.5 L644.2,789.5 Z" fill="#333333" stroke="#333333" stroke-width="0.6" stroke-linejoin="round"/>
<path d="M661.60,634.90 L662.30,641.00 L664.10,647.30 L666.30,654.00 L667.90,660.40 L668.90,667.00 L669.30,673.50 L669.60,680.00 L670.00,690.00 L670.40,713.00 L670.50,765.00 L670.10,775.00 L669.70,781.00 L669.60,787.60 L672.20,787.60 L672.10,781.00 L671.70,775.00 L671.30,765.00 L671.40,713.00 L671.80,690.00 L672.20,680.00 L672.50,673.50 L672.90,667.00 L673.90,660.40 L675.50,654.00 L677.70,647.30 L679.50,641.00 L680.20,634.90 Z" fill="#00BFC4" stroke="#333333" stroke-width="1.25" stroke-linejoin="round"/>
<rect x="669.6" y="635" width="2.6" height="42" fill="#00BFC4" stroke="#333333" stroke-width="1"/>
<line x1="670.90" y1="677.00" x2="670.90" y2="781.00" stroke="#333333" stroke-width="1.0" />
<path d="M668.2,789 L673.6,789 L674.0,792 L673.6,795 L674.0,798 L673.8,801.4 L668.0,801.4 L667.8,798 L668.2,795 L667.8,792 Z" fill="#333333" stroke="#333333" stroke-width="0.6" stroke-linejoin="round"/>
</svg>
</body></html>
